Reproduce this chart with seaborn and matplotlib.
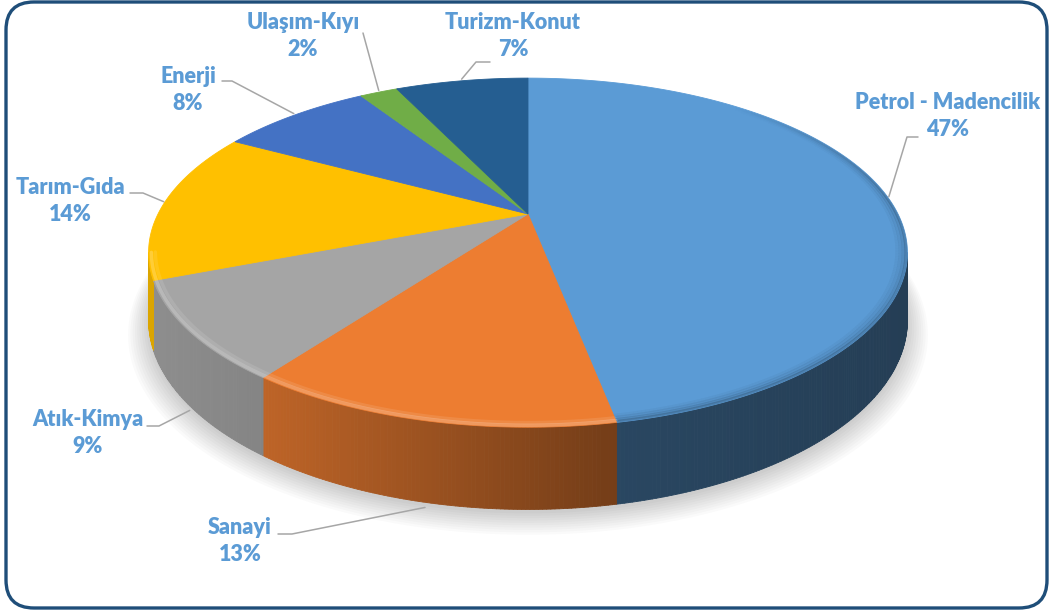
import numpy as np
import matplotlib
matplotlib.use("Agg")
import matplotlib.pyplot as plt
import seaborn as sns
from matplotlib.collections import PolyCollection, LineCollection
from matplotlib.patches import FancyBboxPatch
from matplotlib.colors import to_rgb

# ---------------- data ----------------
categories = ["Petrol - Madencilik", "Sanayi", "Atık-Kimya", "Tarım-Gıda",
              "Enerji", "Ulaşım-Kıyı", "Turizm-Konut"]
shares = [47, 13, 9, 14, 8, 2, 7]
colors = ["#5B9BD5", "#ED7D31", "#A5A5A5", "#FFC000", "#4472C4", "#70AD47", "#255E91"]

# ---------------- layout (pixels) ----------------
label_pos = [(948, 116), (240, 541), (88, 433), (70, 201), (188, 90), (303, 36), (513, 36)]
elbow_pos = [(907, 137), (292, 534), (159, 426), (143, 193), (232, 81), (363, 33), (476, 62)]
elbow_end = [(918, 137), (278, 534), (147, 426), (130, 193), (222, 81), (363, 33), (490, 62)]

W, Hfig = 1051, 612
CX, CY, R, C, K, DEPTH = 528, 214, 370, 166, 0.2215, 64

sns.set_theme(style="white")
plt.rcParams['font.family'] = ['Lato', 'DejaVu Sans']

fig = plt.figure(figsize=(W / 100, Hfig / 100), dpi=100)
ax = fig.add_axes([0, 0, 1, 1])
ax.set_xlim(0, W)
ax.set_ylim(Hfig, 0)
ax.axis("off")


def proj(phi, z=0.0, r=1.0):
    x = r * np.sin(phi)
    y = r * np.cos(phi)
    d = 1 + K * y
    return CX + R * x / d, CY - C * y / d + z / d


vals = np.array(shares, dtype=float)
bounds = np.concatenate([[0], np.cumsum(vals)]) / vals.sum() * 2 * np.pi

# soft shadow under the pie
full = np.linspace(0, 2 * np.pi, 400)
for s in range(10):
    sx, sy = proj(full, DEPTH)
    sx = CX + (sx - CX) * (1 + 0.006 * s)
    sy = CY + (sy - CY) * (1 + 0.006 * s) + 4 + s * 0.6
    ax.fill(sx, sy, color="black", alpha=0.018, lw=0, zorder=1)

# side wall
vis_lo = np.arccos(-K)
vis_hi = 2 * np.pi - vis_lo
polys, pcols = [], []
for i, col in enumerate(colors):
    a0, a1 = max(bounds[i], vis_lo), min(bounds[i + 1], vis_hi)
    if a1 <= a0:
        continue
    n = max(2, int((a1 - a0) / np.radians(0.5)))
    edges = np.linspace(a0, a1, n + 1)
    base = np.array(to_rgb(col))
    for j in range(n):
        ph = np.linspace(edges[j], edges[j + 1], 3)
        tx, ty = proj(ph, 0)
        bx, by = proj(ph[::-1], DEPTH)
        polys.append(np.column_stack([np.concatenate([tx, bx]), np.concatenate([ty, by])]))
        xm = tx.mean()
        f = np.interp(xm, [150, 265, 600, 905], [0.86, 0.80, 0.50, 0.40])
        if i == 0:
            f = np.interp(xm, [600, 905], [0.46, 0.40])
        pcols.append(np.clip(base * f, 0, 1))
ax.add_collection(PolyCollection(polys, facecolors=pcols, edgecolors=pcols, linewidths=0.6, zorder=2))

# top face
wedges = []
for i, col in enumerate(colors):
    ph = np.linspace(bounds[i], bounds[i + 1], 200)
    rx, ry = proj(ph, 0)
    patch = ax.fill(np.concatenate([[CX], rx]), np.concatenate([[CY], ry]), color=col,
                    lw=0.6, ec=col, zorder=3)[0]
    wedges.append(patch)

# darker soft bevel on the right rim of the big slice (fading in)
ph = np.linspace(0.7, bounds[1], 250)
ramp = np.clip((ph[:-1] - 0.7) / 0.8, 0, 1)
for r, a in [(0.997, 0.16), (0.99, 0.10), (0.982, 0.06), (0.974, 0.03)]:
    hx, hy = proj(ph, 0, r)
    pts = np.column_stack([hx, hy]).reshape(-1, 1, 2)
    segs = np.concatenate([pts[:-1], pts[1:]], axis=1)
    cols = np.zeros((len(segs), 4))
    cols[:, 3] = a * ramp
    lc = LineCollection(segs, colors=cols, linewidths=2.5, zorder=4, capstyle="butt")
    ax.add_collection(lc)
    lc.set_clip_path(wedges[0])
# light bevel highlight on the front rim of the other slices
ph = np.linspace(bounds[1], vis_hi, 300)
for r, a in [(0.993, 0.22), (0.983, 0.10)]:
    hx, hy = proj(ph, 0, r)
    ax.plot(hx, hy, color="white", alpha=a, lw=2.5, zorder=4)

# labels and leader lines
for i, name in enumerate(categories):
    mid = (bounds[i] + bounds[i + 1]) / 2
    front = np.cos(mid) < -0.3
    axp, ayp = proj(mid, DEPTH + 4 if front else -2)
    ex, ey = elbow_pos[i]
    fx, fy = elbow_end[i]
    ax.plot([fx, ex, axp], [fy, ey, ayp], color="#A6A6A6", lw=1.1, zorder=5)
    lx, ly = label_pos[i]
    ax.text(lx, ly, f"{name}\n{shares[i]}%", ha="center", va="center",
            color="#5B9BD5", fontsize=15.5, fontweight="heavy", linespacing=1.3, zorder=6)

# chart border
ax.add_patch(FancyBboxPatch((6, 2), W - 10, Hfig - 6,
                            boxstyle="round,pad=0,rounding_size=28",
                            fc="none", ec="#1F4E79", lw=2.4, zorder=7))

fig.savefig("out.png", dpi=100)
